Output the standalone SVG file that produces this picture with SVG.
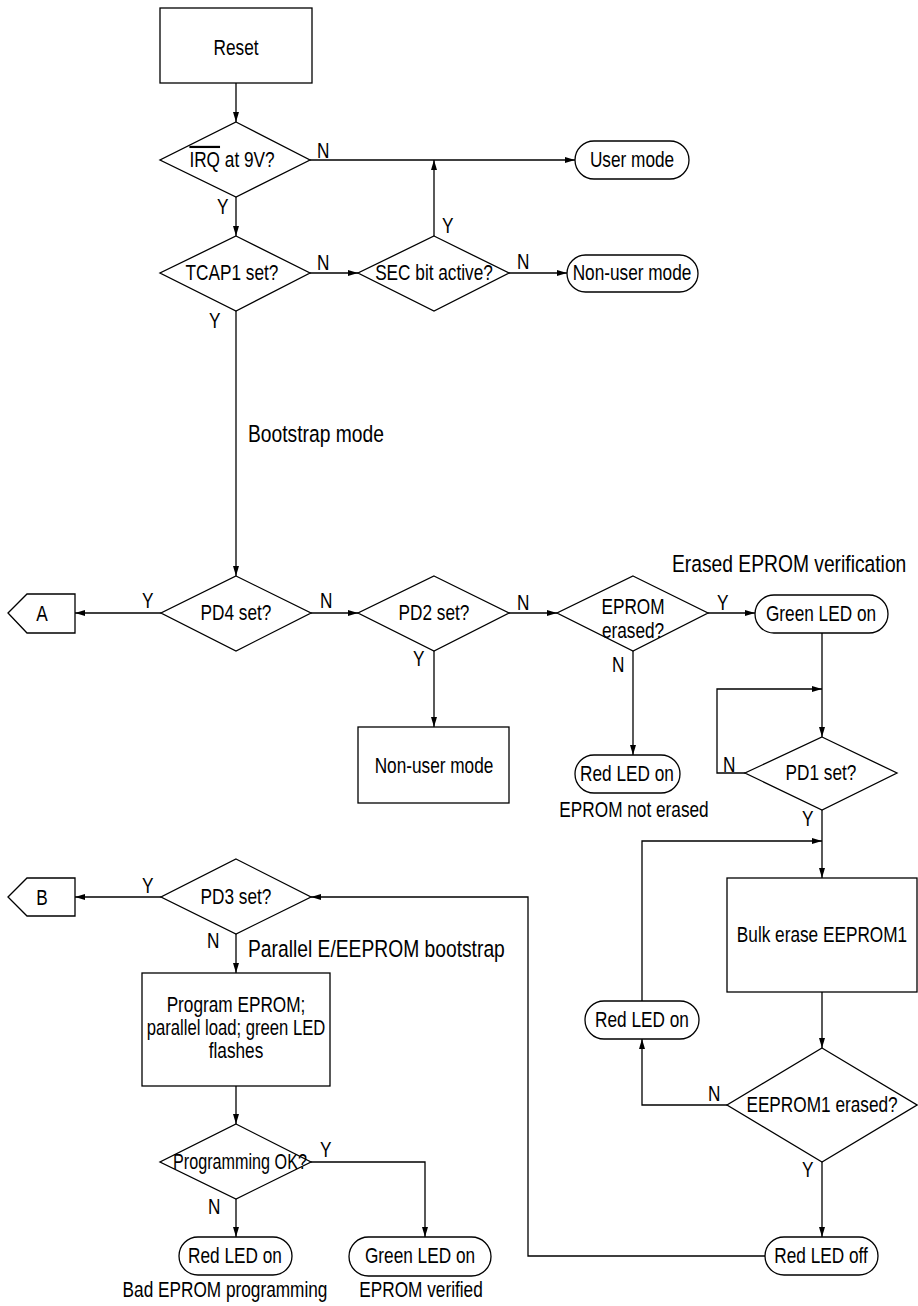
<svg xmlns="http://www.w3.org/2000/svg" width="918" height="1306" viewBox="0 0 918 1306">
<style>
  text { font-family: "Liberation Sans", Arial, sans-serif; font-size: 22px; fill: #000; }
  .c { text-anchor: middle; }
  .lbl { font-size: 23.5px; }
  .shape { fill: #fff; stroke: #000; stroke-width: 1.3; }
  .conn path { fill: none; stroke: #000; stroke-width: 1.3; marker-end: url(#arrow); }
</style>
<defs>
  <marker id="arrow" markerUnits="userSpaceOnUse" markerWidth="11" markerHeight="8" refX="10" refY="3.5" orient="auto">
    <path d="M0,0.5 L10,3.5 L0,6.5 z" fill="#000"/>
  </marker>
</defs>
<rect width="918" height="1306" fill="#fff"/>

<g class="conn" id="connectors">
  <path d="M236,83 V122"/>
  <path d="M310,160 H575"/>
  <path d="M236,197 V236"/>
  <path d="M310,273 H358"/>
  <path d="M434,236 V160"/>
  <path d="M509,273 H567"/>
  <path d="M236,311 V576"/>
  <path d="M161,613 H75"/>
  <path d="M311,613 H358"/>
  <path d="M434,651 V727"/>
  <path d="M509,613 H557"/>
  <path d="M633,651 V755"/>
  <path d="M708,613 H755"/>
  <path d="M822,633 V737"/>
  <path d="M745,773 H717 V689 H822"/>
  <path d="M822,810 V878"/>
  <path d="M822,992 V1048"/>
  <path d="M727,1105 H642 V1039"/>
  <path d="M642,1001 V841 H822"/>
  <path d="M822,1162 V1237"/>
  <path d="M765,1256 H528 V897 H311"/>
  <path d="M161,897 H75"/>
  <path d="M236,934 V973"/>
  <path d="M236,1086 V1124"/>
  <path d="M311,1162 H425 V1237"/>
  <path d="M236,1199 V1237"/>
</g>

<g id="edge-labels">
  <text transform="translate(317 158) scale(.783 1)">N</text>
  <text transform="translate(217 214) scale(.783 1)">Y</text>
  <text transform="translate(317 270) scale(.783 1)">N</text>
  <text transform="translate(442 233) scale(.783 1)">Y</text>
  <text transform="translate(517 269) scale(.783 1)">N</text>
  <text transform="translate(209 328) scale(.783 1)">Y</text>
  <text transform="translate(142 608) scale(.783 1)">Y</text>
  <text transform="translate(320 608) scale(.783 1)">N</text>
  <text transform="translate(413 666) scale(.783 1)">Y</text>
  <text transform="translate(517 610) scale(.783 1)">N</text>
  <text transform="translate(612 672) scale(.783 1)">N</text>
  <text transform="translate(717 610) scale(.783 1)">Y</text>
  <text transform="translate(723 772) scale(.783 1)">N</text>
  <text transform="translate(802 826) scale(.783 1)">Y</text>
  <text transform="translate(708 1101) scale(.783 1)">N</text>
  <text transform="translate(802 1177) scale(.783 1)">Y</text>
  <text transform="translate(142 893) scale(.783 1)">Y</text>
  <text transform="translate(207 948) scale(.783 1)">N</text>
  <text transform="translate(320 1157) scale(.783 1)">Y</text>
  <text transform="translate(208 1214) scale(.783 1)">N</text>
</g>

<g id="annotations">
  <text class="lbl" transform="translate(248 442) scale(.82 1)">Bootstrap mode</text>
  <text class="lbl" transform="translate(672 572) scale(.82 1)">Erased EPROM verification</text>
  <text class="lbl" transform="translate(248 957) scale(.82 1)">Parallel E/EEPROM bootstrap</text>
  <text class="c" transform="translate(634 817) scale(.783 1)">EPROM not erased</text>
  <text class="c" transform="translate(225 1297) scale(.783 1)">Bad EPROM programming</text>
  <text class="c" transform="translate(421 1297) scale(.783 1)">EPROM verified</text>
</g>

<g id="reset">
  <rect class="shape" x="160" y="8" width="152" height="75"/>
  <text class="c" transform="translate(236 55) scale(.783 1)">Reset</text>
</g>
<g id="irq">
  <polygon class="shape" points="236,122 310,160 236,197 160,160"/>
  <text class="c" transform="translate(232 167) scale(.783 1)"><tspan text-decoration="overline">IRQ</tspan> at 9V?</text>
</g>
<g id="user-mode">
  <rect class="shape" x="575" y="141" width="114" height="38" rx="19"/>
  <text class="c" transform="translate(632 167) scale(.783 1)">User mode</text>
</g>
<g id="tcap1">
  <polygon class="shape" points="236,236 310,273 236,311 160,273"/>
  <text class="c" transform="translate(232 280) scale(.783 1)">TCAP1 set?</text>
</g>
<g id="sec">
  <polygon class="shape" points="434,236 509,273 434,311 358,273"/>
  <text class="c" transform="translate(434 280) scale(.783 1)">SEC bit active?</text>
</g>
<g id="non-user-1">
  <rect class="shape" x="567" y="255" width="131" height="37" rx="18.5"/>
  <text class="c" transform="translate(632 280) scale(.783 1)">Non-user mode</text>
</g>
<g id="pd4">
  <polygon class="shape" points="236,576 311,613 236,651 161,613"/>
  <text class="c" transform="translate(236 620) scale(.783 1)">PD4 set?</text>
</g>
<g id="conn-a">
  <polygon class="shape" points="8,613 27,594 75,594 75,633 27,633"/>
  <text class="c" transform="translate(42 621) scale(.783 1)">A</text>
</g>
<g id="pd2">
  <polygon class="shape" points="434,576 509,613 434,651 358,613"/>
  <text class="c" transform="translate(434 620) scale(.783 1)">PD2 set?</text>
</g>
<g id="non-user-2">
  <rect class="shape" x="358" y="727" width="151" height="76"/>
  <text class="c" transform="translate(434 773) scale(.783 1)">Non-user mode</text>
</g>
<g id="eprom-erased">
  <polygon class="shape" points="633,576 708,613 633,651 557,613"/>
  <text class="c" transform="translate(633 614) scale(.783 1)">EPROM</text>
  <text class="c" transform="translate(633 638) scale(.783 1)">erased?</text>
</g>
<g id="green-led-1">
  <rect class="shape" x="755" y="595" width="133" height="38" rx="19"/>
  <text class="c" transform="translate(821 621) scale(.783 1)">Green LED on</text>
</g>
<g id="red-led-1">
  <rect class="shape" x="575" y="755" width="105" height="38" rx="19"/>
  <text class="c" transform="translate(627 781) scale(.783 1)">Red LED on</text>
</g>
<g id="pd1">
  <polygon class="shape" points="822,737 897,773 822,810 745,773"/>
  <text class="c" transform="translate(821 780) scale(.783 1)">PD1 set?</text>
</g>
<g id="bulk-erase">
  <rect class="shape" x="727" y="878" width="190" height="114"/>
  <text class="c" transform="translate(822 942) scale(.783 1)">Bulk erase EEPROM1</text>
</g>
<g id="eeprom1-erased">
  <polygon class="shape" points="822,1048 917,1105 822,1162 727,1105"/>
  <text class="c" transform="translate(822 1112) scale(.783 1)">EEPROM1 erased?</text>
</g>
<g id="red-led-2">
  <rect class="shape" x="585" y="1001" width="114" height="38" rx="19"/>
  <text class="c" transform="translate(642 1027) scale(.783 1)">Red LED on</text>
</g>
<g id="red-led-off">
  <rect class="shape" x="765" y="1237" width="113" height="38" rx="19"/>
  <text class="c" transform="translate(821 1263) scale(.783 1)">Red LED off</text>
</g>
<g id="pd3">
  <polygon class="shape" points="236,859 311,897 236,934 161,897"/>
  <text class="c" transform="translate(236 904) scale(.783 1)">PD3 set?</text>
</g>
<g id="conn-b">
  <polygon class="shape" points="8,897 27,878 75,878 75,916 27,916"/>
  <text class="c" transform="translate(42 905) scale(.783 1)">B</text>
</g>
<g id="program-eprom">
  <rect class="shape" x="142" y="973" width="188" height="113"/>
  <text class="c" transform="translate(236 1012) scale(.783 1)">Program EPROM;</text>
  <text class="c" transform="translate(236 1035) scale(.783 1)" textLength="228" lengthAdjust="spacingAndGlyphs">parallel load; green LED</text>
  <text class="c" transform="translate(236 1058) scale(.783 1)">flashes</text>
</g>
<g id="programming-ok">
  <polygon class="shape" points="236,1124 311,1162 236,1199 160,1162"/>
  <text class="c" transform="translate(240 1169) scale(.783 1)" textLength="171" lengthAdjust="spacingAndGlyphs">Programming OK?</text>
</g>
<g id="red-led-3">
  <rect class="shape" x="179" y="1237" width="113" height="38" rx="19"/>
  <text class="c" transform="translate(235 1263) scale(.783 1)">Red LED on</text>
</g>
<g id="green-led-2">
  <rect class="shape" x="349" y="1237" width="142" height="39" rx="19.5"/>
  <text class="c" transform="translate(420 1263) scale(.783 1)">Green LED on</text>
</g>
</svg>
